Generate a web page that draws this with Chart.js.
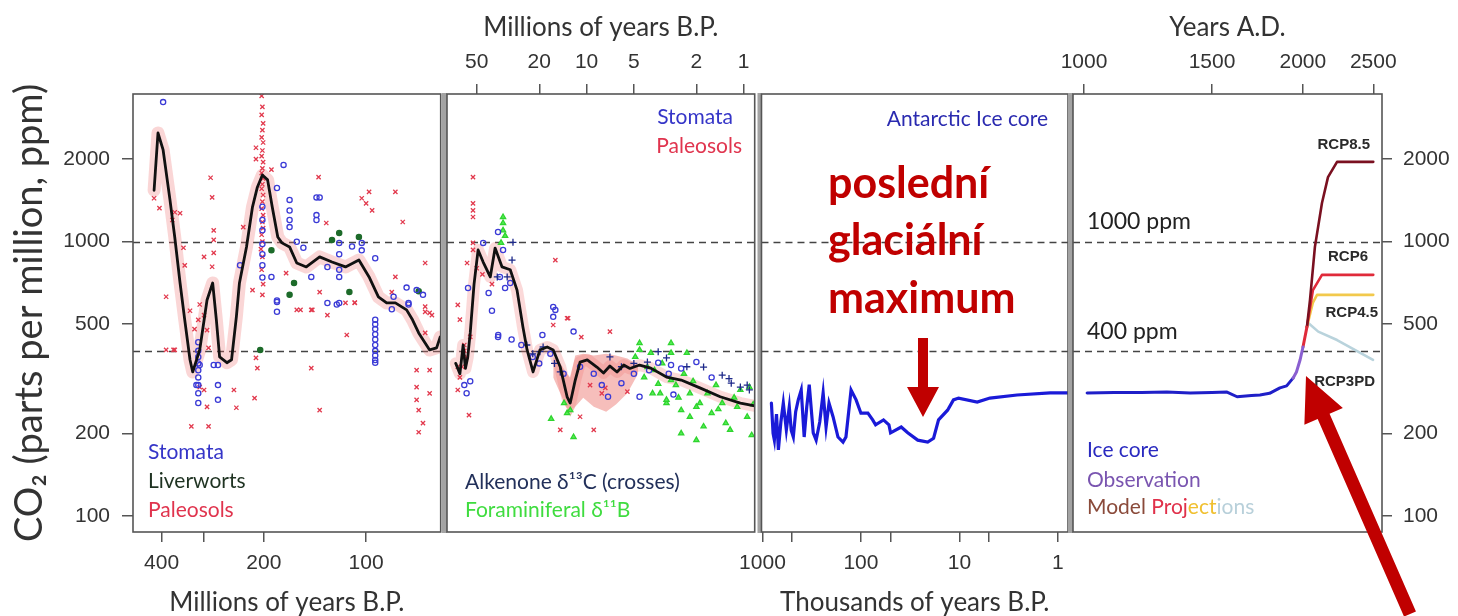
<!DOCTYPE html>
<html>
<head>
<meta charset="utf-8">
<script src="https://cdn.jsdelivr.net/npm/chart.js@4.4.1/dist/chart.umd.min.js"></script>
<style>
  body { margin: 0; background: #fff; width: 1458px; height: 616px; position: relative; overflow: hidden; }
  canvas { position: absolute; top: 0; }
</style>
</head>
<body>
<canvas id="p1" width="446" height="616" style="left:0px"></canvas>
<canvas id="p2" width="340" height="616" style="left:420px"></canvas>
<canvas id="p3" width="345" height="616" style="left:730px"></canvas>
<canvas id="p4" width="418" height="616" style="left:1040px"></canvas>
<script>
// shared y axis (ppm, log)
const yMin = 87.4, yMax = 3455;
const yTicks = [100, 200, 500, 1000, 2000];
const yTickLabels = ['100', '200', '500', '1000', '2000'];
const refLines = [1000, 400];

// panel 1: millions of years B.P. (400 .. 60)
const p1Ticks = [400, 300, 200, 100];
const p1TickLabels = ['400', '', '200', '100'];
const p1LineAge = [421,410,396,378,366,353,342,330,324,309,294,283,276,270,257,249,241,236,225,216,209,202,195,189,182,177,168,160,150,137,126,115,105,98,92,87,82,76,73,70,65,62,60.5];
const p1LinePpm = [1540,2490,2160,1420,1040,707,519,371,335,403,613,707,519,380,362,371,532,707,957,1340,1580,1750,1680,1340,1040,990,957,836,809,880,843,809,857,744,629,598,598,564,519,465,403,410,449];
const p1StomataAge = [396,175,183,168,168,168,168,140,137,140,140,202,202,202,202,202,202,202,235,190,153,145,130,120,120,120,120,103,103,94,183,183,130,120,83,76,75,71,312,312,312,312,312,312,312,312,312,273,273,273,281,94,94,94,94,94,94,94,94,94,94,183,84,75,122,309,316,160,110,68];
const p1StomataPpm = [3228,1905,1570,1420,1300,1200,1130,1450,1450,1250,1200,1340,1200,1100,980,900,820,740,820,744,950,744,809,990,900,790,744,990,930,870,603,555,598,598,630,680,598,666,430,400,380,360,340,320,300,280,258,355,300,265,355,519,500,480,460,440,420,400,385,370,362,610,567,590,590,355,300,1000,960,640];
const p1LiverAge = [163,168,112,120,105,70,190,126,205];
const p1LiverPpm = [707,640,655,1075,1040,660,930,1015,403];
const p1PaleoAge = [421,406,366,342,388,287,284,281,281,281,300,284,230,216,211,211,190,138,131,98,82,103,100,96,78,67,82,84,172,156,145,137,108,67,65,388,327,291,309,300,245,241,213,211,209,145,137,114,160,144,130,115,108,71,71,71,70,70,68,65,65,67,64,67,366,291,294,309,312,294,353,345,372,330,320,369,300,203,202,203,201,202,203,201,202,203,201,202,203,201,202,203,201,202,203,201,202,201,203,202,204,202,203,201,202];
const p1PaleoPpm = [1440,1325,1280,820,630,1710,1450,1100,1015,910,880,810,1130,666,2200,2000,1830,1720,1170,1520,1520,1440,1380,1300,1180,836,744,655,768,564,564,655,598,580,550,403,212,212,295,288,288,248,269,377,346,346,243,457,564,564,540,598,600,340,295,265,243,202,218,340,280,555,540,465,403,410,476,590,519,250,1270,950,1200,560,480,403,540,3400,3100,2900,2700,2550,2400,2300,2150,2050,1950,1850,1780,1700,1620,1560,1480,1400,1320,1250,1180,1120,1060,1000,940,880,790,700,640];

// panel 2: millions of years B.P. (77 .. 0.85)
const p2Ticks = [50, 20, 10, 5, 2, 1];
const p2TickLabels = ['50', '20', '10', '5', '2', '1'];
const p2LineAge = [68,64,61,59,57,55,52,49,45.5,41,38.2,34.5,30.6,27.7,25.4,23.9,21.9,19.8,17.8,16.3,14.7,13.3,12.7,11.8,11.0,9.9,8.6,7.8,7.1,6.4,5.8,5.3,4.6,3.9,3.1,2.5,1.9,1.41,1.05,0.85];
const p2LinePpm = [360,330,420,345,380,465,700,933,843,744,948,809,790,666,488,403,335,403,413,403,349,272,258,313,364,371,349,332,352,335,355,345,355,346,321,313,293,272,258,252];
const p2BandAge = [16.3,14.7,13.3,12.7,11.8,10.5,9,7.5,6.5,5.5,4.7];
const p2BandHigh = [380,360,330,320,385,390,385,390,385,375,355];
const p2BandLow = [320,280,245,230,250,270,250,240,255,280,330];
const p2StomataAge = [36.5,15.8,12.1,7.3,4.6,3.5,2.9,2.0,2.8,56.8,35.6,33,30.6,16.3,16.3,36.6,19.1,45.5,36.6,34,42,40,30,26,22,20,17,14,11,9,8,6,5,4,3,2.5,1.6,60,58,55];
const p2StomataPpm = [457,564,470,272,272,362,355,364,277,678,744,678,707,578,532,449,457,990,1085,933,650,560,440,420,380,360,390,330,350,330,300,305,330,340,330,345,320,300,280,310];
const p2PaleoAge = [52.8,52.8,52.8,52.8,52.8,52.8,57.6,66,15.8,66,56,16.3,13.3,10.8,7.1,7.6,5.5,14.7,9.0,13.1,60,58,62,55,64,50,46,40,9.5,8,11,66,64,60];
const p2PaleoPpm = [1720,1380,1300,1230,990,933,836,588,857,288,233,497,526,449,470,293,284,206,206,526,420,380,350,450,520,800,760,700,300,280,230,350,320,400];
const p2AlkAge = [3.5,1.37,1.24,0.92,1.05,1.8,3.1,4.1,18.9,14.7,19.8,7.1,29.8,32,37,29.4,24,22,16,1.2,0.95,2.3,5,6];
const p2AlkPpm = [397,326,317,288,295,349,377,364,413,335,397,380,857,744,744,995,420,390,360,305,300,350,360,350];
const p2ForamAge = [4.6,3.9,3.5,3.4,3.1,2.9,2.9,2.5,2.3,2.2,1.9,2.2,1.8,2.0,2.5,1.6,1.37,1.30,1.22,1.05,0.92,0.89,4.6,4.1,3.8,3.1,2.9,13.9,13.3,16.8,12.1,12.7,34,34,34,35,33,4.3,3.7,2.7,2.4,2.1,1.7,1.5,1.1,0.95,4.9,3.3,2.6,2.0,1.45,1.15,0.87];
const p2ForamPpm = [427,393,303,280,258,427,313,243,393,280,258,230,212,189,200,237,258,218,206,288,295,197,403,349,280,265,393,258,237,226,194,243,1230,1170,1100,990,1050,320,340,300,330,310,280,300,250,230,380,360,270,250,245,270,255];

// panel 3: thousands of years B.P. (ice core)
const p3Ticks = [1000, 500, 100, 50, 10, 5, 1];
const p3TickLabels = ['1000', '', '100', '', '10', '', '1'];
const p3IceKa = [811,780,757,720,689,650,614,572,534,510,486,460,433,404,377,355,335,305,285,262,242,226,211,192,171,152,142,126,112,100,85,76,71,59,52,50,39,33.5,26.5,21,18.3,16.3,13.2,11.5,10.2,6.6,4.9,2.6,1.2,0.8];
const p3IcePpm = [258,200,189,235,174,220,258,206,250,205,194,240,265,288,194,250,301,201,189,220,281,211,258,230,194,186,194,288,265,237,237,224,215,224,215,201,211,201,189,186,192,224,243,265,269,260,269,276,281,281];

// panel 4: years A.D.
const p4Ticks = [1000, 1500, 2000, 2500];
const p4TickLabels = ['1000', '1500', '2000', '2500'];
const p4IceYear = [1010,1100,1200,1300,1400,1500,1573,1624,1700,1746,1800,1860,1900,1939];
const p4IcePpm = [281,282,282,283,281,282,283,272,275,276,280,293,298,318];
const p4ObsYear = [1939,1960,1983,2001];
const p4ObsPpm = [318,335,371,413];
const p4StartYear = [2001,2026];
const p4StartPpm = [413,488];
const rcp3Year = [2026,2035,2100,2229,2498];
const rcp3Ppm = [488,505,470,438,371];
const rcp45Year = [2026,2065,2092,2150,2500];
const rcp45Ppm = [488,600,640,640,640];
const rcp6Year = [2026,2065,2125,2500];
const rcp6Ppm = [488,666,757,757];
const rcp85Year = [2026,2046,2078,2125,2166,2229,2500];
const rcp85Ppm = [488,613,957,1384,1720,1955,1955];

Chart.defaults.font.family = "'Liberation Sans', Arial, sans-serif";
Chart.defaults.color = '#333';

const pts = (xs, ys) => xs.map((x, i) => ({x: x, y: ys[i]}));

function logAxis(o) {
  return {
    type: 'logarithmic',
    position: o.position,
    display: o.display !== false,
    min: o.min, max: o.max,
    reverse: !!o.reverse,
    afterBuildTicks: s => { s.ticks = o.ticks.map(v => ({value: v})); },
    afterFit: s => {
      if (o.size == null) return;
      if (s.isHorizontal()) s.height = o.size; else s.width = o.size;
    },
    grid: {drawOnChartArea: false, tickLength: o.tickLength || 10, color: '#555', lineWidth: 1.5},
    border: {display: false},
    ticks: {
      autoSkip: false, maxRotation: 0, padding: o.pad, color: '#333',
      font: {size: 21},
      callback: (v, i) => o.labels[i]
    },
    title: o.title ? {
      display: true, text: o.title, color: '#333',
      font: {family: 'Lato', size: o.titleSize || 26, lineHeight: o.titleLH || 1.2},
      padding: o.titlePad || 0
    } : {display: false}
  };
}

function line(data, color, width, order, extra) {
  return Object.assign({data: data, showLine: true, pointRadius: 0, borderColor: color,
    borderWidth: width, order: order, clip: 0, borderJoinStyle: 'round', borderCapStyle: 'round'}, extra || {});
}

function dots(data, style, color, fill, radius, order) {
  return {data: data, pointStyle: style, pointRadius: radius, borderColor: color,
    backgroundColor: fill, pointBorderWidth: 1.3, borderWidth: 1.3, order: order};
}

function txt(ctx, s, x, y, color, font, align) {
  ctx.font = font;
  ctx.fillStyle = color;
  ctx.textAlign = align || 'left';
  ctx.textBaseline = 'middle';
  ctx.fillText(s, x, y);
}

function arrow(ctx, x0, y0, x1, y1, shaft, half, headLen, color) {
  const dx = x1 - x0, dy = y1 - y0, len = Math.hypot(dx, dy);
  const ux = dx / len, uy = dy / len, nx = -uy, ny = ux;
  const bx = x1 - ux * headLen, by = y1 - uy * headLen;
  const s = shaft / 2;
  ctx.beginPath();
  ctx.moveTo(x0 + nx * s, y0 + ny * s);
  ctx.lineTo(bx + nx * s, by + ny * s);
  ctx.lineTo(bx + nx * half, by + ny * half);
  ctx.lineTo(x1, y1);
  ctx.lineTo(bx - nx * half, by - ny * half);
  ctx.lineTo(bx - nx * s, by - ny * s);
  ctx.lineTo(x0 - nx * s, y0 - ny * s);
  ctx.closePath();
  ctx.fillStyle = color;
  ctx.fill();
}

function deco(offset, sepWidth, draw) {
  return {
    id: 'deco',
    beforeDatasetsDraw(chart) {
      const {ctx, chartArea: a, scales: {y}} = chart;
      ctx.save();
      ctx.setLineDash([7, 5]);
      ctx.strokeStyle = '#444';
      ctx.lineWidth = 1.6;
      refLines.forEach(v => {
        const py = Math.round(y.getPixelForValue(v)) + 0.5;
        ctx.beginPath(); ctx.moveTo(a.left, py); ctx.lineTo(a.right, py); ctx.stroke();
      });
      ctx.restore();
    },
    afterDraw(chart) {
      const {ctx, chartArea: a} = chart;
      ctx.save();
      if (sepWidth) {
        ctx.fillStyle = '#a3a3a3';
        ctx.fillRect(a.left - sepWidth, a.top - 1, sepWidth, a.bottom - a.top + 2);
      }
      ctx.strokeStyle = '#555';
      ctx.lineWidth = 1.6;
      ctx.strokeRect(a.left, a.top, a.right - a.left, a.bottom - a.top);
      ctx.translate(-offset, 0);
      if (draw) draw(ctx, chart);
      ctx.restore();
    }
  };
}

const legendFont = '21px Lato';
const baseOpts = (pad, scales) => ({
  responsive: false, animation: false, devicePixelRatio: 1,
  layout: {padding: pad},
  plugins: {legend: {display: false}, tooltip: {enabled: false}},
  scales: scales
});

// ---------- panel 1 ----------
const p1Line = pts(p1LineAge, p1LinePpm);
new Chart(document.getElementById('p1'), {
  type: 'scatter',
  data: {datasets: [
    line(p1Line, '#111', 2.8, 1),
    dots(pts(p1StomataAge, p1StomataPpm), 'circle', '#3b3bd6', 'rgba(0,0,0,0)', 2.6, 3),
    dots(pts(p1LiverAge, p1LiverPpm), 'circle', '#1d6b2a', '#1d6b2a', 2.6, 3),
    dots(pts(p1PaleoAge, p1PaleoPpm), 'crossRot', '#e23a4e', '#e23a4e', 3, 4),
    line(p1Line, 'rgba(240,120,120,0.3)', 13, 9)
  ]},
  options: baseOpts({left: 0, right: 4, top: 94, bottom: 0}, {
    x: logAxis({position: 'bottom', min: 60.3, max: 485.7, reverse: true, ticks: p1Ticks, labels: p1TickLabels,
      size: 84, pad: 9, title: 'Millions of years B.P.', titleLH: 1, titlePad: {top: 0, bottom: 0}}),
    y: logAxis({position: 'left', min: yMin, max: yMax, ticks: yTicks, labels: yTickLabels, size: 133, pad: 12,
      tickLength: 11, title: 'CO\u2082 (parts per million, ppm)', titleSize: 38, titlePad: {top: 7, bottom: 0}})
  }),
  plugins: [deco(0, 0, ctx => {
    txt(ctx, 'Stomata', 148, 452, '#3535c8', legendFont);
    txt(ctx, 'Liverworts', 148, 481, '#1f3322', legendFont);
    txt(ctx, 'Paleosols', 148, 510, '#e0344e', legendFont);
  })]
});

// ---------- panel 2 ----------
const p2Line = pts(p2LineAge, p2LinePpm);
new Chart(document.getElementById('p2'), {
  type: 'scatter',
  data: {datasets: [
    line(p2Line, '#111', 2.8, 1),
    dots(pts(p2AlkAge, p2AlkPpm), 'cross', '#1e2a8a', '#1e2a8a', 3.5, 2),
    dots(pts(p2StomataAge, p2StomataPpm), 'circle', '#3b3bd6', 'rgba(0,0,0,0)', 2.6, 3),
    dots(pts(p2PaleoAge, p2PaleoPpm), 'crossRot', '#e23a4e', '#e23a4e', 3, 4),
    dots(pts(p2ForamAge, p2ForamPpm), 'triangle', '#2fd42f', '#55ee55', 3, 5),
    line(p2Line, 'rgba(240,120,120,0.28)', 12, 9),
    line(pts(p2BandAge, p2BandHigh), 'rgba(0,0,0,0)', 0, 10, {fill: '+1', backgroundColor: 'rgba(236,110,105,0.45)'}),
    line(pts(p2BandAge, p2BandLow), 'rgba(0,0,0,0)', 0, 10)
  ]},
  options: baseOpts({left: 27, right: 5, top: 0, bottom: 84}, {
    x: logAxis({position: 'top', min: 0.851, max: 77.3, reverse: true, ticks: p2Ticks, labels: p2TickLabels,
      size: 94, pad: 9, title: 'Millions of years B.P.', titlePad: {top: 12, bottom: 0}}),
    y: logAxis({display: false, position: 'left', min: yMin, max: yMax, ticks: yTicks, labels: yTickLabels})
  }),
  plugins: [deco(420, 5, ctx => {
    txt(ctx, 'Stomata', 733, 117, '#3535c8', legendFont, 'right');
    txt(ctx, 'Paleosols', 742, 146, '#e0344e', legendFont, 'right');
    txt(ctx, 'Alkenone \u03b4\u00b9\u00b3C (crosses)', 465, 482, '#22305a', legendFont);
    txt(ctx, 'Foraminiferal \u03b4\u00b9\u00b9B', 465, 510, '#3fdc3f', legendFont);
  })]
});

// ---------- panel 3 ----------
new Chart(document.getElementById('p3'), {
  type: 'scatter',
  data: {datasets: [
    line(pts(p3IceKa, p3IcePpm), '#1a1ad8', 3.2, 1, {borderJoinStyle: 'miter'})
  ]},
  options: baseOpts({left: 30, right: 7, top: 94, bottom: 0}, {
    x: logAxis({position: 'bottom', min: 0.79, max: 1023, reverse: true, ticks: p3Ticks, labels: p3TickLabels,
      size: 84, pad: 9, title: 'Thousands of years B.P.', titleLH: 1, titlePad: {top: 0, bottom: 0}}),
    y: logAxis({display: false, position: 'left', min: yMin, max: yMax, ticks: yTicks, labels: yTickLabels})
  }),
  plugins: [deco(730, 4, ctx => {
    txt(ctx, 'Antarctic Ice core', 1048, 119, '#2b2bb0', legendFont, 'right');
    ctx.font = 'bold 43px Lato';
    ctx.fillStyle = '#c00000';
    ctx.textAlign = 'left';
    ctx.textBaseline = 'alphabetic';
    ctx.fillText('posledn\u00ed', 828, 198);
    ctx.fillText('glaci\u00e1ln\u00ed', 828, 255);
    ctx.fillText('maximum', 828, 313);
    arrow(ctx, 923, 338, 923, 417, 10, 16, 30, '#c00000');
  })]
});

// ---------- panel 4 ----------
new Chart(document.getElementById('p4'), {
  type: 'scatter',
  data: {datasets: [
    line(pts(p4ObsYear, p4ObsPpm), '#8a5fd0', 3, 1),
    line(pts(p4StartYear, p4StartPpm), '#e02a3a', 3, 2),
    line(pts(rcp85Year, rcp85Ppm), '#7a1020', 2.6, 3),
    line(pts(rcp6Year, rcp6Ppm), '#e02a3a', 2.6, 4),
    line(pts(rcp45Year, rcp45Ppm), '#f2c94c', 2.6, 5),
    line(pts(rcp3Year, rcp3Ppm), '#b9d3dc', 2.6, 6),
    line(pts(p4IceYear, p4IcePpm), '#1f1fc8', 3, 7)
  ]},
  options: baseOpts({left: 33, right: 0, top: 0, bottom: 84}, {
    x: logAxis({position: 'top', min: 965.8, max: 2570, ticks: p4Ticks, labels: p4TickLabels,
      size: 94, pad: 9, title: 'Years A.D.', titlePad: {top: 12, bottom: 0}}),
    y: logAxis({position: 'right', min: yMin, max: yMax, ticks: yTicks, labels: yTickLabels, size: 76, pad: 11})
  }),
  plugins: [deco(1040, 5, (ctx, chart) => {
    txt(ctx, '1000 ppm', 1087, 222, '#222', '23px Lato');
    txt(ctx, '400 ppm', 1087, 332, '#222', '23px Lato');
    const rf = "bold 15px 'Liberation Sans', Arial";
    txt(ctx, 'RCP8.5', 1370, 145, '#2a2a2a', rf, 'right');
    txt(ctx, 'RCP6', 1368, 257, '#2a2a2a', rf, 'right');
    txt(ctx, 'RCP4.5', 1378, 313, '#2a2a2a', rf, 'right');
    txt(ctx, 'RCP3PD', 1375, 382, '#2a2a2a', rf, 'right');
    txt(ctx, 'Ice core', 1087, 450, '#2a2ac0', legendFont);
    txt(ctx, 'Observation', 1087, 480, '#7a55b0', legendFont);
    const parts = [['Model ', '#8a4a3a'], ['Proj', '#e0304a'], ['ect', '#f0c030'], ['ions', '#b8d0da']];
    let x = 1087;
    ctx.font = legendFont;
    parts.forEach(p => { txt(ctx, p[0], x, 507, p[1], legendFont); x += ctx.measureText(p[0]).width; });
    arrow(ctx, 1410, 614, 1306, 376, 13, 21, 44, '#c00000');
  })]
});
</script>
</body>
</html>
